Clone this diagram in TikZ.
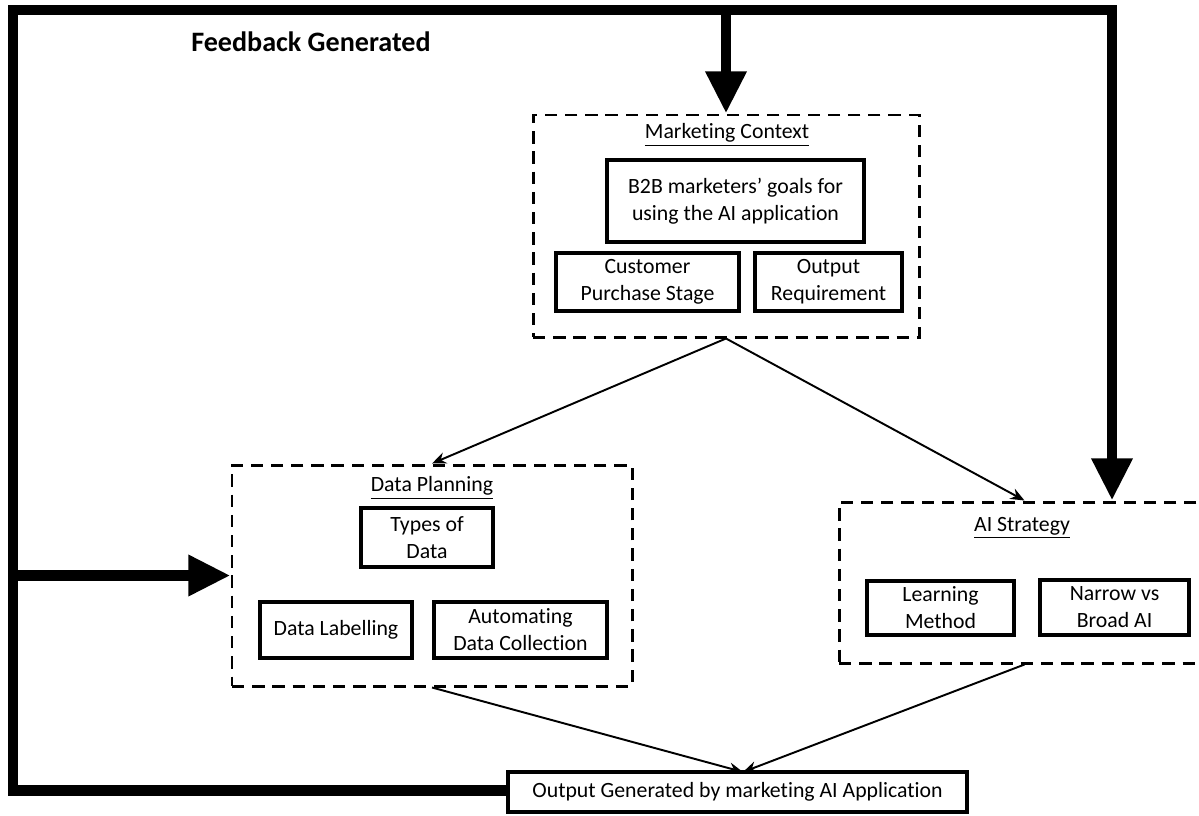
\documentclass[tikz,border=0pt]{standalone}
\usepackage{fontspec}
\setmainfont{Carlito}[Ligatures={NoCommon}]
\usetikzlibrary{arrows.meta,fit}
\begin{document}
\begin{tikzpicture}[x=0.02cm,y=-0.02cm,
  feedback/.style={line width=6pt},
  bigtip/.style={-{Triangle[length=24pt,width=22pt]}},
  group/.style={draw, line width=1.7pt, dash pattern=on 7pt off 4.5pt, inner sep=0pt},
  item/.style={draw, line width=1.8pt, inner sep=0pt},
  itemtext/.style={align=center, font=\fontsize{12.4}{15.3}\selectfont},
  heading/.style={font=\fontsize{12.4}{15}\selectfont},
  link/.style={line width=1.1pt, -{Stealth[length=8pt,width=6.5pt]}}]
\clip (0,0) rectangle (1199,815);

% group frames
\node[group, fit={(533,115) (919,337)}] (mc) {};
\node[group, fit={(232,465) (632,686)}] (dp) {};
\node[group, fit={(839,502) (1210,663)}] (ai) {};

% group headings
\node[heading] (mct) at (727,135) {\underline{Marketing Context}};
\node[heading] (dpt) at (432,488) {\underline{Data Planning}};
\node[heading] (ait) at (1022,528) {\underline{AI Strategy}};

% marketing context items
\node[item, fit={(607,160) (864,242)}, label={[itemtext]center:B2B marketers’ goals for\\using the AI application}] (goals) {};
\node[item, fit={(556,253) (739,311)}, label={[itemtext]center:Customer\\Purchase Stage}] (stage) {};
\node[item, fit={(755,253) (902,311)}, label={[itemtext]center:Output\\Requirement}] (req) {};

% data planning items
\node[item, fit={(361,508) (493,567)}, label={[itemtext]center:Types of\\Data}] (types) {};
\node[item, fit={(260,602) (412,658)}, label={[itemtext]center:Data Labelling}] (label) {};
\node[item, fit={(434,602) (607,658)}, label={[itemtext]center:Automating\\Data Collection}] (collect) {};

% AI strategy items
\node[item, fit={(867,581) (1014,635)}, label={[itemtext]center:Learning\\Method}] (learn) {};
\node[item, fit={(1040,580) (1189,635)}, label={[itemtext]center:Narrow vs\\Broad AI}] (narrow) {};

% output
\node[item, fit={(508,772) (967,812)}, label={[itemtext]center:Output Generated by marketing AI Application}] (out) {};

% feedback label
\node[font=\fontsize{16}{19}\selectfont\bfseries] (fbl) at (311,42) {Feedback Generated};

% feedback loop
\coordinate (bl) at (13,790.5);
\coordinate (tl) at (13,10);
\coordinate (tr) at (1112,10);
\draw[feedback,bigtip] (out.west |- bl) -- (bl) -- (tl) -- (tr) -- (tr |- ai.north);
\draw[feedback,bigtip] (mc.north |- tl) -- (mc.north);
\draw[feedback,bigtip] (tl |- dp.west) -- (dp.west);

% flow between stages
\coordinate (meet) at (743,772);
\draw[link] (mc.south) -- (dp.north);
\draw[link] (mc.south) -- (ai.north);
\draw[link] (dp.south) -- (meet);
\draw[link] (ai.south) -- (meet);
\end{tikzpicture}
\end{document}
